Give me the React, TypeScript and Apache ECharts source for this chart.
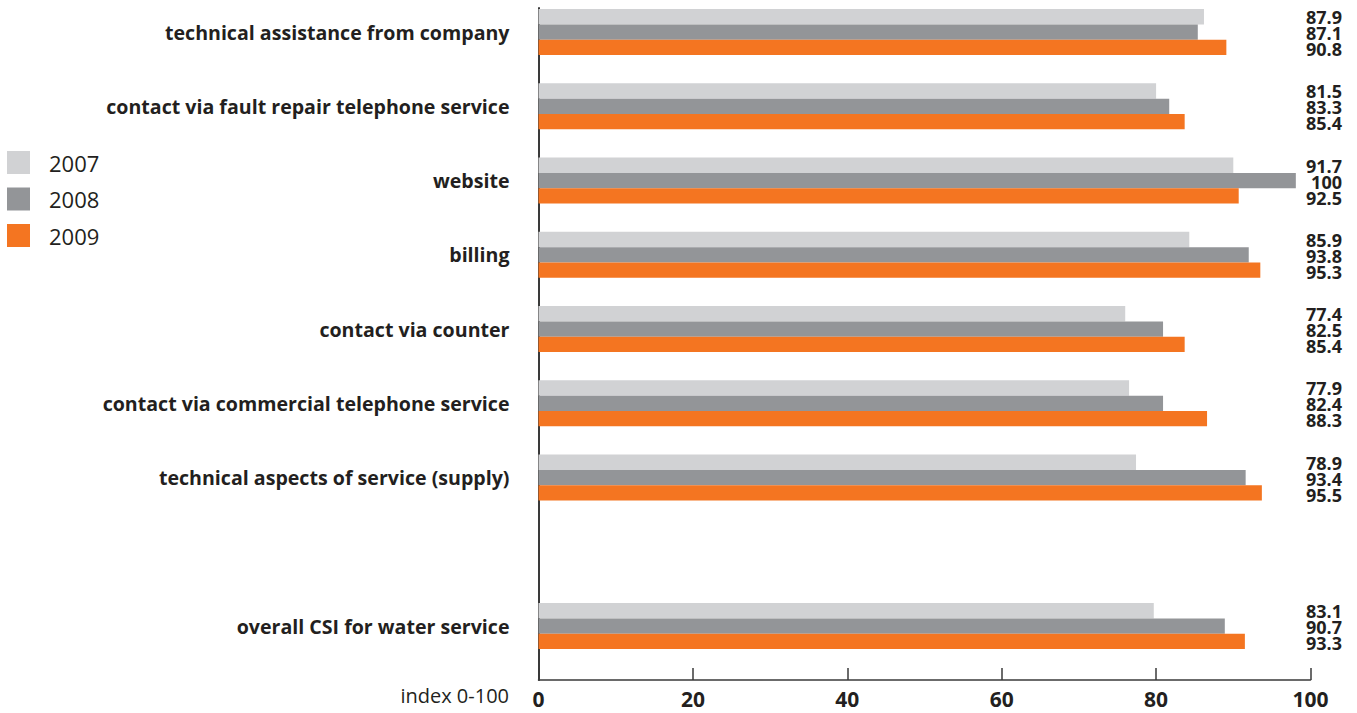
import React, { useEffect, useRef } from "react";
import * as echarts from "echarts";

const categories = [
  "technical assistance from company",
  "contact via fault repair telephone service",
  "website",
  "billing",
  "contact via counter",
  "contact via commercial telephone service",
  "technical aspects of service (supply)",
  "",
  "overall CSI for water service",
];

const years = ["2007", "2008", "2009"];

// bar lengths as drawn in the picture
const bars2007 = [86.2, 80.0, 90.0, 84.3, 76.0, 76.5, 77.4, null, 79.7];
const bars2008 = [85.4, 81.7, 98.1, 92.0, 80.9, 80.9, 91.6, null, 88.9];
const bars2009 = [89.1, 83.7, 90.7, 93.5, 83.7, 86.6, 93.7, null, 91.5];

// printed values
const labels2007 = ["87.9", "81.5", "91.7", "85.9", "77.4", "77.9", "78.9", "", "83.1"];
const labels2008 = ["87.1", "83.3", "100", "93.8", "82.5", "82.4", "93.4", "", "90.7"];
const labels2009 = ["90.8", "85.4", "92.5", "95.3", "85.4", "88.3", "95.5", "", "93.3"];

const xTicks = [0, 20, 40, 60, 80, 100];
const axisTitle = "index 0-100";

const colors = ["#d1d2d4", "#939598", "#f47521"];
const textColor = "#231f20";
const font = "'Open Sans', 'Lato', sans-serif";

// the chart's div starts OFF pixels above the page top
const OFF = 20;

export default function App() {
  const ref = useRef<HTMLDivElement>(null);

  useEffect(() => {
    if (!ref.current) return;
    const chart = echarts.init(ref.current, null, { renderer: "svg" });
    const left = 538.5;
    const right = 46.5;
    const barW = 15.3;

    const series: any[] = [bars2007, bars2008, bars2009].map((d, i) => ({
      name: years[i],
      type: "bar",
      xAxisIndex: 0,
      yAxisIndex: 0,
      data: d,
      barWidth: barW,
      barGap: "0%",
      itemStyle: { color: colors[i] },
      label:
        i === 1
          ? {
              show: true,
              position: [1342 - left, barW / 2 + 1],
              align: "right",
              verticalAlign: "middle",
              fontFamily: font,
              fontWeight: "bold",
              fontSize: 18,
              lineHeight: 16,
              color: textColor,
              formatter: (p: any) =>
                `${labels2007[p.dataIndex]}\n${labels2008[p.dataIndex]}\n${labels2009[p.dataIndex]}`,
            }
          : { show: false },
    }));

    chart.setOption({
      animation: false,
      textStyle: { fontFamily: font },
      legend: {
        data: years,
        orient: "vertical",
        left: 7,
        top: 151 + OFF,
        itemWidth: 23,
        itemHeight: 23,
        itemGap: 13.5,
        icon: "rect",
        padding: 0,
        textStyle: {
          fontSize: 22,
          color: textColor,
          fontFamily: font,
          padding: [0, 0, 0, 14],
        },
      },
      graphic: [
        {
          type: "text",
          right: 1357 - 509,
          top: 685 + OFF,
          style: {
            text: axisTitle,
            fontFamily: font,
            fontSize: 20,
            fill: textColor,
          },
        },
      ],
      grid: [
        { left, right, top: -5.1 + OFF, height: 74.25 * 9 },
        { left, right, top: 8 + OFF, bottom: 33 },
      ],
      xAxis: [
        { gridIndex: 0, type: "value", min: 0, max: 100, show: false },
        {
          gridIndex: 1,
          type: "value",
          min: xTicks[0],
          max: xTicks[xTicks.length - 1],
          interval: 20,
          axisLine: { show: true, lineStyle: { color: "#3a3a3a", width: 1.5 } },
          axisTick: { show: true, inside: true, length: 12, lineStyle: { color: "#3a3a3a", width: 1.5 } },
          splitLine: { show: false },
          axisLabel: {
            fontFamily: font,
            fontWeight: "bold",
            fontSize: 21,
            color: textColor,
            margin: 8,
          },
        },
      ],
      yAxis: [
        {
          gridIndex: 0,
          type: "category",
          inverse: true,
          data: categories,
          axisLine: { show: false },
          axisTick: { show: false },
          splitLine: { show: false },
          axisLabel: {
            margin: 29,
            fontFamily: font,
            fontWeight: "bold",
            fontSize: 19.6,
            color: textColor,
          },
        },
        {
          gridIndex: 1,
          type: "value",
          axisLine: { show: true, lineStyle: { color: "#3a3a3a", width: 2 } },
          axisTick: { show: false },
          axisLabel: { show: false },
          splitLine: { show: false },
        },
      ],
      series,
    });
    return () => chart.dispose();
  }, []);

  return (
    <div
      ref={ref}
      style={{ position: "absolute", left: 0, top: -OFF, width: 1357, height: 713 + OFF, background: "#fff" }}
    />
  );
}
